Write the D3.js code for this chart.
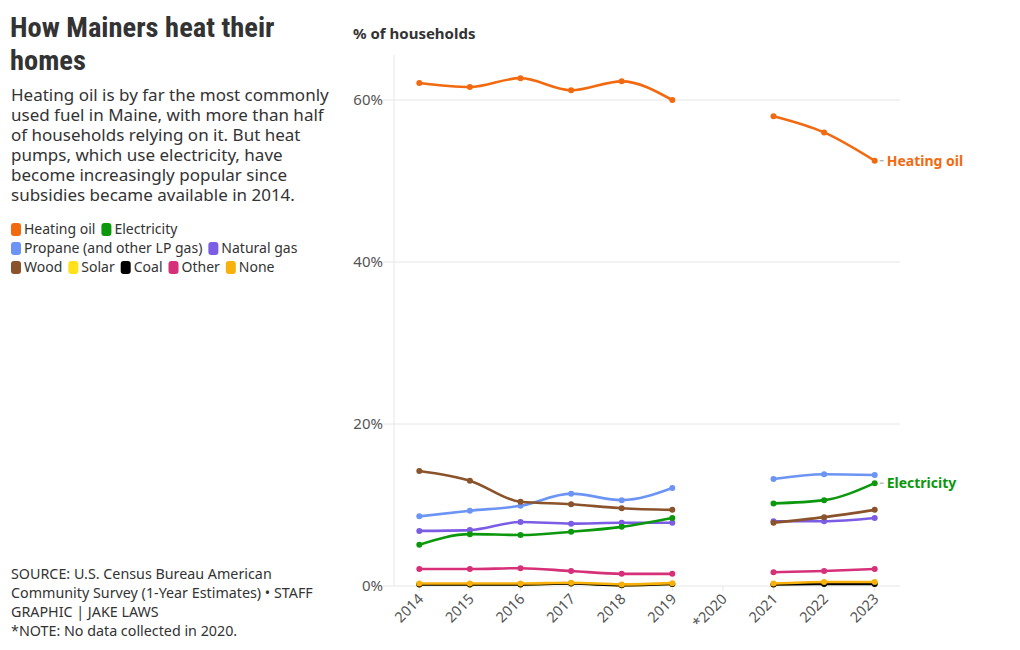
<!DOCTYPE html>
<html><head><meta charset="utf-8">
<script src="https://cdn.jsdelivr.net/npm/d3@7"></script>
<style>
body{margin:0;background:#fff;font-family:"Source Sans 3","Noto Sans","Open Sans",sans-serif;}
svg text{font-family:"Noto Sans","Open Sans",sans-serif;}
</style></head><body>
<svg id="c" width="1020" height="650"></svg>
<script>
const years = ["2014","2015","2016","2017","2018","2019","*2020","2021","2022","2023"];
const seriesNames = ["Heating oil","Electricity","Propane (and other LP gas)","Natural gas","Wood","Solar","Coal","Other","None"];
const seriesColors = ["#f26a10","#0c980c","#6c94f4","#7b5ce4","#8a532b","#ffe21a","#000000","#d63078","#f8b00c"];
const heatingOil = [62.1,61.6,62.7,61.2,62.3,60.0,null,58.0,56.0,52.5];
const electricity = [5.1,6.4,6.3,6.7,7.3,8.4,null,10.2,10.6,12.7];
const propane = [8.6,9.3,9.9,11.4,10.6,12.1,null,13.2,13.8,13.7];
const naturalGas = [6.8,6.9,7.9,7.7,7.8,7.8,null,8.0,8.0,8.4];
const wood = [14.2,13.0,10.4,10.1,9.6,9.4,null,7.8,8.5,9.4];
const solar = [0.2,0.2,0.2,0.3,0.1,0.25,null,0.2,0.3,0.3];
const coal = [0.2,0.2,0.2,0.3,0.1,0.25,null,0.2,0.25,0.25];
const other = [2.1,2.1,2.2,1.85,1.5,1.5,null,1.7,1.85,2.1];
const none = [0.3,0.3,0.3,0.4,0.2,0.35,null,0.3,0.5,0.5];
const yTicks = [0,20,40,60];
const labelled = ["Heating oil","Electricity"];

const allValues = [heatingOil,electricity,propane,naturalGas,wood,solar,coal,other,none];
const series = seriesNames.map((n,i)=>({name:n,color:seriesColors[i],values:allValues[i]}));

const svg = d3.select("#c");
const x = d3.scalePoint().domain(years).range([394,900]).padding(0.5);
const y = d3.scaleLinear().domain([0,60]).range([586,100]);

// title block
const title = svg.append("text").attr("fill","#333").attr("font-weight","700")
  .style("font-family","'Roboto Condensed','Liberation Sans Narrow','Roboto',sans-serif").attr("font-size",28.5);
title.append("tspan").attr("x",10).attr("y",37).text("How Mainers heat their");
title.append("tspan").attr("x",10).attr("y",70).text("homes");

const sub = ["Heating oil is by far the most commonly","used fuel in Maine, with more than half","of households relying on it. But heat","pumps, which use electricity, have","become increasingly popular since","subsidies became available in 2014."];
svg.append("g").selectAll("text").data(sub).join("text")
  .attr("x",11).attr("y",(d,i)=>101+i*20).attr("font-size",17).attr("fill","#333").text(d=>d);

// legend
const legendRows = [[0,1],[2,3],[4,5,6,7,8]];
const lg = svg.append("g");
legendRows.forEach((row,ri)=>{
  let cx = 11;
  row.forEach(si=>{
    const s = series[si];
    lg.append("rect").attr("x",cx).attr("y",223+ri*19).attr("width",10).attr("height",13).attr("rx",3).attr("fill",s.color);
    const t = lg.append("text").attr("x",cx+13).attr("y",234+ri*19).attr("font-size",14).attr("fill","#333").text(s.name);
    cx += 13 + t.node().getComputedTextLength() + 6;
  });
});

// source
const src = ["SOURCE: U.S. Census Bureau American","Community Survey (1-Year Estimates) \u2022 STAFF","GRAPHIC | JAKE LAWS","*NOTE: No data collected in 2020."];
svg.append("g").selectAll("text").data(src).join("text")
  .attr("x",11).attr("y",(d,i)=>579+i*19).attr("font-size",14.3).attr("fill","#333").text(d=>d);

// axis title
svg.append("text").attr("x",353).attr("y",39).attr("font-size",15).attr("font-weight","700").attr("fill","#333").text("% of households");

// grid
const g = svg.append("g");
g.append("line").attr("x1",394).attr("x2",394).attr("y1",55).attr("y2",586).attr("stroke","#e6e6e6");
g.selectAll(".grid").data(yTicks).join("line").attr("class","grid")
  .attr("x1",383).attr("x2",900).attr("y1",d=>y(d)).attr("y2",d=>y(d)).attr("stroke","#e6e6e6");
g.selectAll(".yl").data(yTicks).join("text").attr("class","yl")
  .attr("x",383).attr("y",d=>y(d)+5).attr("text-anchor","end").attr("font-size",15).attr("fill","#555").text(d=>d+"%");
// x ticks
g.selectAll(".xt").data(years).join("line").attr("class","xt")
  .attr("x1",d=>x(d)).attr("x2",d=>x(d)).attr("y1",586).attr("y2",591).attr("stroke","#e6e6e6");
g.selectAll(".xl").data(years).join("text").attr("class","xl")
  .attr("transform",d=>`translate(${x(d)+5},${600}) rotate(-45)`).attr("text-anchor","end")
  .attr("font-size",14.5).attr("fill","#555").text(d=>d);

// lines
const line = d3.line().defined(d=>d.v!=null).x(d=>x(d.yr)).y(d=>y(d.v)).curve(d3.curveMonotoneX);
const order = [5,6,8,7,3,2,4,1,0];
order.forEach(si=>{
  const s = series[si];
  const pts = years.map((yr,i)=>({yr,v:s.values[i]}));
  svg.append("path").attr("d",line(pts)).attr("fill","none").attr("stroke",s.color).attr("stroke-width",2.6).attr("stroke-linecap","round");
  svg.append("g").selectAll("circle").data(pts.filter(p=>p.v!=null)).join("circle")
    .attr("cx",p=>x(p.yr)).attr("cy",p=>y(p.v)).attr("r",3).attr("fill",s.color);
});

// end labels
labelled.forEach(n=>{
  const s = series.find(d=>d.name===n);
  const last = years[years.length-1];
  const v = s.values[s.values.length-1];
  svg.append("line").attr("x1",x(last)+5).attr("x2",x(last)+9).attr("y1",y(v)).attr("y2",y(v)).attr("stroke","#999").attr("stroke-width",1);
  svg.append("text").attr("x",x(last)+12).attr("y",y(v)+5).attr("font-size",14).attr("font-weight","700").attr("fill",s.color).text(n);
});
</script></body></html>
